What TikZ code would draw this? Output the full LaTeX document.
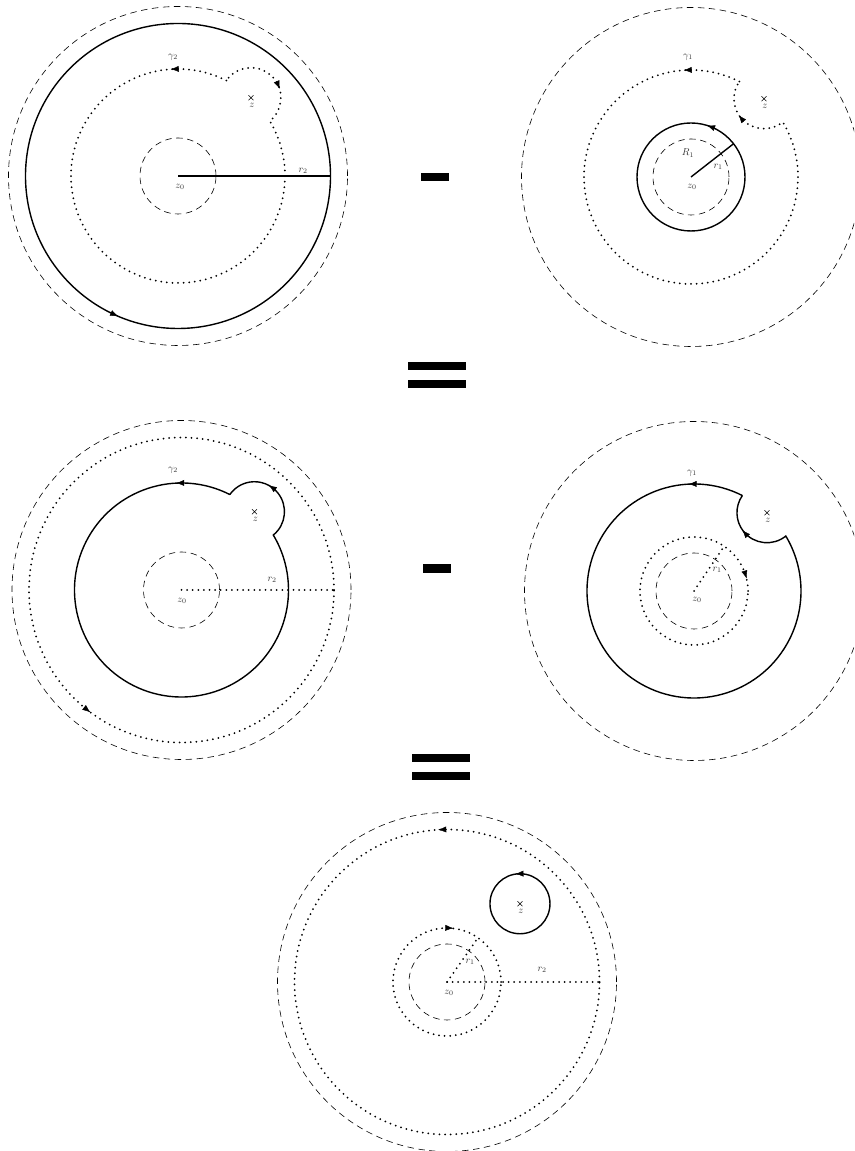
\documentclass[tikz,border=0pt]{standalone}
\usetikzlibrary{arrows.meta}
\tikzset{
  dashc/.style={dash pattern=on 6.5pt off 4.5pt, line width=0.6pt},
  dotc/.style={dash pattern=on 0pt off 5.6pt, line cap=round, line width=2pt},
  solidc/.style={line width=1.4pt},
  tipc/.style={-{Latex[length=8pt,width=6pt]}, line width=0.4pt},
  lab/.style={inner sep=0pt, text=black!80, font=\fontsize{10}{11}\selectfont},
  xmark/.style={line width=0.6pt},
  barc/.style={fill=black}
}
\newcommand\tipat[4]{\draw[tipc] (#1) ++(#3:#2) ++(#4:2.5pt) -- ++(#4:1pt);}
\newcommand\zmark[1]{\draw[xmark] (#1) ++(-2.5pt,-2.5pt) -- ++(5pt,5pt) (#1) ++(-2.5pt,2.5pt) -- ++(5pt,-5pt);}
\begin{document}
\begin{tikzpicture}[x=1pt,y=1pt]
\useasboundingbox (0,0) rectangle (854,1151);
\clip (0,0) rectangle (854,1151);

% ---------- panel 1 ----------
\begin{scope}[shift={(178,975)}]
  \coordinate (c1) at (0,0);
  \coordinate (z1) at (47:107pt);
  \draw[dashc] (c1) circle[radius=169.5pt];
  \draw[dashc] (c1) circle[radius=38pt];
  \draw[solidc] (c1) circle[radius=152.5pt];
  \draw[solidc] (c1) -- (0:152.5pt);
  \draw[dotc] (63.1:107pt) arc[start angle=63.1,end angle=390.9,radius=107pt]
     arc[start angle=-51.05,end angle=145.05,radius=30pt];
  \tipat{c1}{107pt}{92}{182}
  \tipat{z1}{30pt}{24}{-66}
  \tipat{c1}{152.5pt}{245.6}{335.6}
  \zmark{z1}
  \node[lab,xshift=1pt,yshift=-8pt] (zl1) at (z1) {$z$};
  \node[lab] (g1) at (-5,119) {$\gamma_2$};
  \node[lab] (rr1) at (125,5) {$r_2$};
  \node[lab] (o1) at (2,-11) {$z_0$};
\end{scope}

% ---------- panel 2 ----------
\begin{scope}[shift={(691,974)}]
  \coordinate (c2) at (0,0);
  \coordinate (z2) at (47:107pt);
  \draw[dashc] (c2) circle[radius=169.5pt];
  \draw[dashc] (c2) circle[radius=38pt];
  \draw[solidc] (c2) circle[radius=54pt];
  \draw[solidc] (c2) -- (38:54pt);
  \draw[dotc] (63.1:107pt) arc[start angle=63.1,end angle=390.9,radius=107pt]
     arc[start angle=-51.05,end angle=-214.95,radius=30pt];
  \tipat{c2}{107pt}{92}{182}
  \tipat{z2}{30pt}{219.6}{129.6}
  \tipat{c2}{54pt}{69}{159}
  \zmark{z2}
  \node[lab,xshift=1pt,yshift=-8pt] (zl2) at (z2) {$z$};
  \node[lab] (g2) at (-3,120) {$\gamma_1$};
  \node[lab] (R2) at (-3,24) {$R_1$};
  \node[lab] (rr2) at (27,10) {$r_1$};
  \node[lab] (o2) at (1,-10) {$z_0$};
\end{scope}

% ---------- panel 3 ----------
\begin{scope}[shift={(181.5,561)}]
  \coordinate (c3) at (0,0);
  \coordinate (z3) at (47:107pt);
  \draw[dashc] (c3) circle[radius=169.5pt];
  \draw[dashc] (c3) circle[radius=38pt];
  \draw[dotc] (c3) circle[radius=152.5pt];
  \draw[dotc] (c3) -- (0:152.5pt);
  \draw[solidc] (63.1:107pt) arc[start angle=63.1,end angle=390.9,radius=107pt]
     arc[start angle=-51.05,end angle=145.05,radius=30pt];
  \tipat{c3}{152.5pt}{232}{322}
  \tipat{c3}{107pt}{91}{181}
  \tipat{z3}{30pt}{55}{145}
  \zmark{z3}
  \node[lab,xshift=1pt,yshift=-8pt] (zl3) at (z3) {$z$};
  \node[lab] (g3) at (-8.5,120) {$\gamma_2$};
  \node[lab] (rr3) at (90.5,10) {$r_2$};
  \node[lab] (o3) at (0.5,-11) {$z_0$};
\end{scope}

% ---------- panel 4 ----------
\begin{scope}[shift={(694,560)}]
  \coordinate (c4) at (0,0);
  \coordinate (z4) at (47:107pt);
  \draw[dashc] (c4) circle[radius=169.5pt];
  \draw[dashc] (c4) circle[radius=38pt];
  \draw[dotc] (c4) circle[radius=54pt];
  \draw[dotc] (c4) -- (56:54pt);
  \draw[solidc] (63.1:107pt) arc[start angle=63.1,end angle=390.9,radius=107pt]
     arc[start angle=-51.05,end angle=-214.95,radius=30pt];
  \tipat{c4}{107pt}{91}{181}
  \tipat{z4}{30pt}{222}{132}
  \tipat{c4}{54pt}{17}{-73}
  \zmark{z4}
  \node[lab,xshift=1pt,yshift=-8pt] (zl4) at (z4) {$z$};
  \node[lab] (g4) at (-2,118) {$\gamma_1$};
  \node[lab] (rr4) at (23,21) {$r_1$};
  \node[lab] (o4) at (3,-9) {$z_0$};
\end{scope}

% ---------- panel 5 ----------
\begin{scope}[shift={(447,169)}]
  \coordinate (c5) at (0,0);
  \coordinate (z5) at (47:107pt);
  \draw[dashc] (c5) circle[radius=169.5pt];
  \draw[dashc] (c5) circle[radius=38pt];
  \draw[dotc] (c5) circle[radius=152.5pt];
  \draw[dotc] (c5) circle[radius=54pt];
  \draw[solidc] (z5) circle[radius=30pt];
  \draw[dotc] (c5) -- (0:152.5pt);
  \draw[dotc] (c5) -- (55:54pt);
  \tipat{c5}{152.5pt}{92}{182}
  \tipat{z5}{30pt}{92}{182}
  \tipat{c5}{54pt}{87}{-3}
  \zmark{z5}
  \node[lab,xshift=1pt,yshift=-8pt] (zl5) at (z5) {$z$};
  \node[lab] (rr5a) at (23,20) {$r_1$};
  \node[lab] (rr5b) at (95,12) {$r_2$};
  \node[lab] (o5) at (2,-11) {$z_0$};
\end{scope}

% ---------- operators ----------
\fill[barc] (421,970) rectangle (449,978);
\fill[barc] (408,781) rectangle (466,789);
\fill[barc] (408,763) rectangle (466,771);
\fill[barc] (423,578) rectangle (451,587);
\fill[barc] (412,389) rectangle (470,397);
\fill[barc] (412,371) rectangle (470,379);
\end{tikzpicture}
\end{document}
